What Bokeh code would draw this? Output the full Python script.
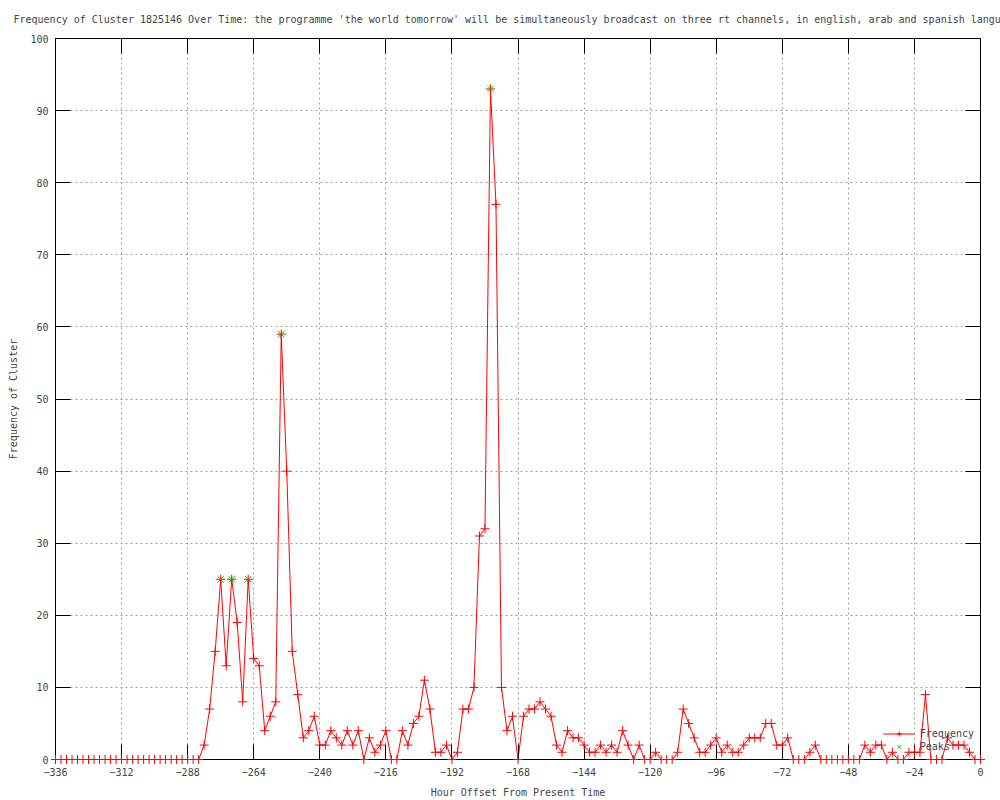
from bokeh.plotting import figure
from bokeh.models import LinearAxis, FixedTicker, Range1d, Legend, LegendItem, ColumnDataSource
from bokeh.embed import file_html
from bokeh.resources import INLINE

# ---- data ----
hours = list(range(-336, 1, 2))
frequency = [0] * 27 + [
    2, 7, 15, 25, 13, 25, 19, 8, 25, 14,
    13, 4, 6, 8, 59, 40, 15, 9, 3, 4,
    6, 2, 2, 4, 3, 2, 4, 2, 4, 0,
    3, 1, 2, 4, 0, 0, 4, 2, 5, 6,
    11, 7, 1, 1, 2, 0, 1, 7, 7, 10,
    31, 32, 93, 77, 10, 4, 6, 0, 6, 7,
    7, 8, 7, 6, 2, 1, 4, 3, 3, 2,
    1, 1, 2, 1, 2, 1, 4, 2, 0, 2,
    0, 0, 1, 0, 0, 0, 1, 7, 5, 3,
    1, 1, 2, 3, 1, 2, 1, 1, 2, 3,
    3, 3, 5, 5, 2, 2, 3, 0, 0, 0,
    1, 2, 0, 0, 0, 0, 0, 0, 0, 0,
    2, 1, 2, 2, 0, 1, 0, 0, 1, 1,
    1, 9, 0, 0, 0, 3, 2, 2, 2, 1,
    0, 0,
]
peak_hours = [-276, -272, -266, -254, -178]
peak_values = [25, 25, 25, 59, 93]
x_ticks = list(range(-336, 1, 24))
y_ticks = list(range(0, 101, 10))

title_text = ("Frequency of Cluster 1825146 Over Time: the programme 'the world tomorrow' "
              "will be simultaneously broadcast on three rt channels, in english, arab and "
              "spanish languages")

FONT = "DejaVu Sans Mono"
FS = "10px"

src = ColumnDataSource(dict(x=hours, y=frequency))
psrc = ColumnDataSource(dict(x=peak_hours, y=peak_values))

p = figure(width=1000, height=800, output_backend="svg", toolbar_location=None,
           x_range=Range1d(-336, 0), y_range=Range1d(0, 100),
           min_border_left=55, min_border_right=20, min_border_top=38, min_border_bottom=40)
p.background_fill_color = "white"
p.border_fill_color = "white"
p.outline_line_color = "black"
p.outline_line_width = 1

p.title.text = title_text
p.title.text_font = FONT
p.title.text_font_size = FS
p.title.text_font_style = "normal"
p.title.align = "left"
p.title.vertical_align = "top"
p.title.offset = -42
p.title.standoff = 24

# axes
for ax in (p.xaxis[0], p.yaxis[0]):
    ax.major_tick_in = 15
    ax.major_tick_out = 0
    ax.minor_tick_in = 0
    ax.minor_tick_out = 0
    ax.axis_line_color = "black"
    ax.major_tick_line_color = "black"
    ax.major_label_text_font = FONT
    ax.major_label_text_font_size = FS
    ax.axis_label_text_font = FONT
    ax.axis_label_text_font_size = FS
    ax.axis_label_text_font_style = "normal"

p.xaxis[0].ticker = FixedTicker(ticks=x_ticks)
p.yaxis[0].ticker = FixedTicker(ticks=y_ticks)
p.xaxis[0].axis_label = "Hour Offset From Present Time"
p.yaxis[0].axis_label = "Frequency of Cluster"
p.xaxis[0].major_label_standoff = 8
p.xaxis[0].axis_label_standoff = 8
p.yaxis[0].major_label_standoff = 7
p.yaxis[0].axis_label_standoff = 8

# mirrored ticks (no labels)
top = LinearAxis(ticker=FixedTicker(ticks=x_ticks), major_tick_in=15, major_tick_out=0,
                 minor_tick_in=0, minor_tick_out=0, major_label_standoff=10,
                 major_label_overrides={t: "" for t in x_ticks},
                 major_label_text_font=FONT, major_label_text_font_size=FS,
                 axis_line_color="black")
right = LinearAxis(ticker=FixedTicker(ticks=y_ticks), major_tick_in=15, major_tick_out=0,
                   minor_tick_in=0, minor_tick_out=0, major_label_standoff=0,
                   major_label_overrides={t: "" for t in y_ticks},
                   major_label_text_font=FONT, major_label_text_font_size=FS,
                   axis_line_color="black")
p.add_layout(top, "above")
p.add_layout(right, "right")

# grid
p.xgrid.ticker = FixedTicker(ticks=x_ticks)
p.ygrid.ticker = FixedTicker(ticks=y_ticks)
for g in (p.xgrid[0], p.ygrid[0]):
    g.grid_line_color = "#a0a0a0"
    g.grid_line_dash = "2 3"
    g.grid_line_width = 1

# data
line_r = p.line("x", "y", source=src, line_color="#ff0000", line_width=1)
pts_r = p.scatter("x", "y", source=src, marker="cross", size=9, line_color="#ff0000",
                  line_width=1)
pts_r.level = "overlay"
peak_r = p.scatter("x", "y", source=psrc, marker="x", size=9, line_color="#00c000",
                   line_width=1)
peak_r.level = "overlay"

legend = Legend(items=[LegendItem(label="Frequency", renderers=[line_r, pts_r]),
                       LegendItem(label="Peaks", renderers=[peak_r])],
                location="bottom_right", margin=6, padding=0, spacing=0,
                label_height=13, glyph_height=13, glyph_width=32, label_standoff=5,
                label_text_font=FONT, label_text_font_size=FS,
                background_fill_alpha=0, border_line_alpha=0)
p.add_layout(legend)

open("out.html", "w").write(file_html(p, INLINE))
